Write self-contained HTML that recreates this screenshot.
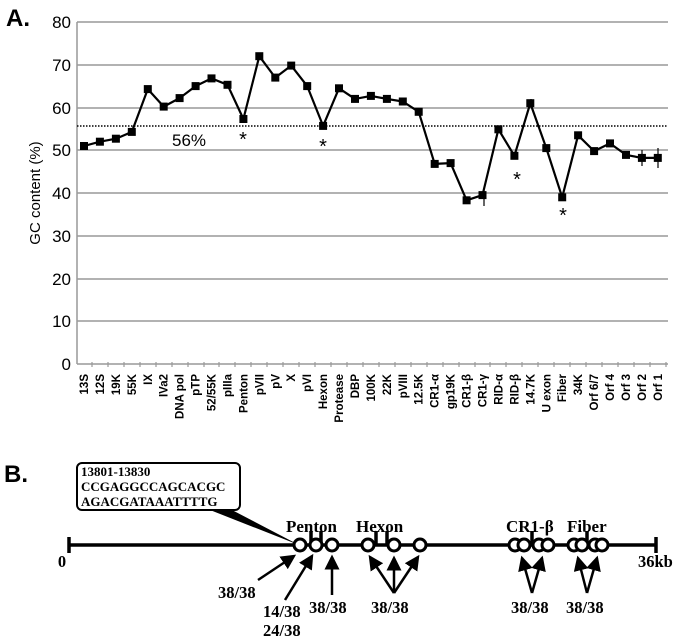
<!DOCTYPE html>
<html><head><meta charset="utf-8"><style>
html,body{margin:0;padding:0;background:#fff}
svg{display:block}
.s{font-family:"Liberation Sans",sans-serif}
.r{font-family:"Liberation Serif",serif;font-weight:bold}
</style></head><body>
<svg width="675" height="644" viewBox="0 0 675 644" xmlns="http://www.w3.org/2000/svg">
<text x="6" y="26" class="s" font-size="24" font-weight="bold">A.</text>
<g stroke="#999" stroke-width="1.5">
<line x1="77" y1="22" x2="668" y2="22"/><line x1="77" y1="65" x2="668" y2="65"/>
<line x1="77" y1="108" x2="668" y2="108"/><line x1="77" y1="150" x2="668" y2="150"/>
<line x1="77" y1="193" x2="668" y2="193"/><line x1="77" y1="236" x2="668" y2="236"/>
<line x1="77" y1="279" x2="668" y2="279"/><line x1="77" y1="321" x2="668" y2="321"/>
<line x1="77" y1="364" x2="668" y2="364"/><line x1="77" y1="22" x2="77" y2="364"/>
</g>
<g stroke="#999" stroke-width="1.2">
<line x1="92" y1="362" x2="92" y2="367"/><line x1="108" y1="362" x2="108" y2="367"/><line x1="124" y1="362" x2="124" y2="367"/><line x1="140" y1="362" x2="140" y2="367"/><line x1="156" y1="362" x2="156" y2="367"/><line x1="172" y1="362" x2="172" y2="367"/><line x1="188" y1="362" x2="188" y2="367"/><line x1="204" y1="362" x2="204" y2="367"/><line x1="219" y1="362" x2="219" y2="367"/><line x1="235" y1="362" x2="235" y2="367"/><line x1="251" y1="362" x2="251" y2="367"/><line x1="267" y1="362" x2="267" y2="367"/><line x1="283" y1="362" x2="283" y2="367"/><line x1="299" y1="362" x2="299" y2="367"/><line x1="315" y1="362" x2="315" y2="367"/><line x1="331" y1="362" x2="331" y2="367"/><line x1="347" y1="362" x2="347" y2="367"/><line x1="363" y1="362" x2="363" y2="367"/><line x1="379" y1="362" x2="379" y2="367"/><line x1="395" y1="362" x2="395" y2="367"/><line x1="411" y1="362" x2="411" y2="367"/><line x1="427" y1="362" x2="427" y2="367"/><line x1="443" y1="362" x2="443" y2="367"/><line x1="459" y1="362" x2="459" y2="367"/><line x1="475" y1="362" x2="475" y2="367"/><line x1="490" y1="362" x2="490" y2="367"/><line x1="506" y1="362" x2="506" y2="367"/><line x1="522" y1="362" x2="522" y2="367"/><line x1="538" y1="362" x2="538" y2="367"/><line x1="554" y1="362" x2="554" y2="367"/><line x1="570" y1="362" x2="570" y2="367"/><line x1="586" y1="362" x2="586" y2="367"/><line x1="602" y1="362" x2="602" y2="367"/><line x1="618" y1="362" x2="618" y2="367"/><line x1="634" y1="362" x2="634" y2="367"/><line x1="650" y1="362" x2="650" y2="367"/><line x1="666" y1="362" x2="666" y2="367"/>
</g>
<g class="s" font-size="17" text-anchor="end">
<text x="71" y="28">80</text><text x="71" y="71">70</text><text x="71" y="114">60</text>
<text x="71" y="156">50</text><text x="71" y="199">40</text><text x="71" y="242">30</text>
<text x="71" y="285">20</text><text x="71" y="327">10</text><text x="71" y="370">0</text>
</g>
<text class="s" font-size="15" transform="translate(40,193) rotate(-90)" text-anchor="middle">GC content (%)</text>
<line x1="77" y1="126" x2="668" y2="126" stroke="#000" stroke-width="1.5" stroke-dasharray="1.5,1.5"/>
<text x="172" y="146" class="s" font-size="17">56%</text>
<g class="s" font-size="20" text-anchor="middle">
<text x="243" y="146">*</text><text x="323" y="153">*</text><text x="517" y="186">*</text><text x="563" y="222">*</text>
</g>
<path d="M84,146 L99.9,141.7 L115.9,138.7 L131.8,131.9 L147.8,89.1 L163.7,106.6 L179.6,98.1 L195.6,86.1 L211.5,78.4 L227.5,84.8 L243.4,119 L259.3,56.2 L275.3,77.6 L291.2,65.6 L307.2,86.1 L323.1,125.9 L339,88.3 L355,98.9 L370.9,95.9 L386.9,98.9 L402.8,101.5 L418.7,111.8 L434.7,163.9 L450.6,163.1 L466.6,200.3 L482.5,195.1 L498.4,129.3 L514.4,155.8 L530.3,103.2 L546.3,148.1 L562.2,197.3 L578.1,135.3 L594.1,151.1 L610,143.4 L626,154.9 L641.9,157.9 L657.8,157.9" fill="none" stroke="#000" stroke-width="2.2" stroke-linejoin="round"/>
<g fill="#000" stroke="none">
<rect x="80" y="142" width="8" height="8"/><rect x="95.9" y="137.7" width="8" height="8"/><rect x="111.9" y="134.7" width="8" height="8"/><rect x="127.8" y="127.9" width="8" height="8"/><rect x="143.8" y="85.1" width="8" height="8"/><rect x="159.7" y="102.6" width="8" height="8"/><rect x="175.6" y="94.1" width="8" height="8"/><rect x="191.6" y="82.1" width="8" height="8"/><rect x="207.5" y="74.4" width="8" height="8"/><rect x="223.5" y="80.8" width="8" height="8"/><rect x="239.4" y="115" width="8" height="8"/><rect x="255.3" y="52.2" width="8" height="8"/><rect x="271.3" y="73.6" width="8" height="8"/><rect x="287.2" y="61.6" width="8" height="8"/><rect x="303.2" y="82.1" width="8" height="8"/><rect x="319.1" y="121.9" width="8" height="8"/><rect x="335" y="84.3" width="8" height="8"/><rect x="351" y="94.9" width="8" height="8"/><rect x="366.9" y="91.9" width="8" height="8"/><rect x="382.9" y="94.9" width="8" height="8"/><rect x="398.8" y="97.5" width="8" height="8"/><rect x="414.7" y="107.8" width="8" height="8"/><rect x="430.7" y="159.9" width="8" height="8"/><rect x="446.6" y="159.1" width="8" height="8"/><rect x="462.6" y="196.3" width="8" height="8"/><rect x="478.5" y="191.1" width="8" height="8"/><rect x="494.4" y="125.3" width="8" height="8"/><rect x="510.4" y="151.8" width="8" height="8"/><rect x="526.3" y="99.2" width="8" height="8"/><rect x="542.3" y="144.1" width="8" height="8"/><rect x="558.2" y="193.3" width="8" height="8"/><rect x="574.1" y="131.3" width="8" height="8"/><rect x="590.1" y="147.1" width="8" height="8"/><rect x="606" y="139.4" width="8" height="8"/><rect x="622" y="150.9" width="8" height="8"/><rect x="637.9" y="153.9" width="8" height="8"/><rect x="653.8" y="153.9" width="8" height="8"/>
</g>
<g stroke="#000" stroke-width="1.2">
<line x1="484" y1="190" x2="484" y2="206"/><line x1="642" y1="150" x2="642" y2="166"/><line x1="658" y1="148" x2="658" y2="168"/><line x1="531" y1="99" x2="531" y2="108"/>
</g>
<g class="s" font-size="11.5" font-weight="bold">
<text transform="translate(88,374) rotate(-90)" text-anchor="end">13S</text>
<text transform="translate(103.9,374) rotate(-90)" text-anchor="end">12S</text>
<text transform="translate(119.9,374) rotate(-90)" text-anchor="end">19K</text>
<text transform="translate(135.8,374) rotate(-90)" text-anchor="end">55K</text>
<text transform="translate(151.8,374) rotate(-90)" text-anchor="end">IX</text>
<text transform="translate(167.7,374) rotate(-90)" text-anchor="end">IVa2</text>
<text transform="translate(183.6,374) rotate(-90)" text-anchor="end">DNA pol</text>
<text transform="translate(199.6,374) rotate(-90)" text-anchor="end">pTP</text>
<text transform="translate(215.5,374) rotate(-90)" text-anchor="end">52/55K</text>
<text transform="translate(231.5,374) rotate(-90)" text-anchor="end">pIIIa</text>
<text transform="translate(247.4,374) rotate(-90)" text-anchor="end">Penton</text>
<text transform="translate(263.3,374) rotate(-90)" text-anchor="end">pVII</text>
<text transform="translate(279.3,374) rotate(-90)" text-anchor="end">pV</text>
<text transform="translate(295.2,374) rotate(-90)" text-anchor="end">X</text>
<text transform="translate(311.2,374) rotate(-90)" text-anchor="end">pVI</text>
<text transform="translate(327.1,374) rotate(-90)" text-anchor="end">Hexon</text>
<text transform="translate(343,374) rotate(-90)" text-anchor="end">Protease</text>
<text transform="translate(359,374) rotate(-90)" text-anchor="end">DBP</text>
<text transform="translate(374.9,374) rotate(-90)" text-anchor="end">100K</text>
<text transform="translate(390.9,374) rotate(-90)" text-anchor="end">22K</text>
<text transform="translate(406.8,374) rotate(-90)" text-anchor="end">pVIII</text>
<text transform="translate(422.7,374) rotate(-90)" text-anchor="end">12.5K</text>
<text transform="translate(438.7,374) rotate(-90)" text-anchor="end">CR1-α</text>
<text transform="translate(454.6,374) rotate(-90)" text-anchor="end">gp19K</text>
<text transform="translate(470.6,374) rotate(-90)" text-anchor="end">CR1-β</text>
<text transform="translate(486.5,374) rotate(-90)" text-anchor="end">CR1-γ</text>
<text transform="translate(502.4,374) rotate(-90)" text-anchor="end">RID-α</text>
<text transform="translate(518.4,374) rotate(-90)" text-anchor="end">RID-β</text>
<text transform="translate(534.3,374) rotate(-90)" text-anchor="end">14.7K</text>
<text transform="translate(550.3,374) rotate(-90)" text-anchor="end">U exon</text>
<text transform="translate(566.2,374) rotate(-90)" text-anchor="end">Fiber</text>
<text transform="translate(582.1,374) rotate(-90)" text-anchor="end">34K</text>
<text transform="translate(598.1,374) rotate(-90)" text-anchor="end">Orf 6/7</text>
<text transform="translate(614,374) rotate(-90)" text-anchor="end">Orf 4</text>
<text transform="translate(630,374) rotate(-90)" text-anchor="end">Orf 3</text>
<text transform="translate(645.9,374) rotate(-90)" text-anchor="end">Orf 2</text>
<text transform="translate(661.8,374) rotate(-90)" text-anchor="end">Orf 1</text>
</g>
<text x="4" y="482" class="s" font-size="24" font-weight="bold">B.</text>
<rect x="77" y="463" width="163" height="47" rx="5" fill="#fff" stroke="#000" stroke-width="2"/>
<polygon points="210,510 232,510 299,545" fill="#000"/>
<g class="r" font-size="13"><text x="81" y="476">13801-13830</text><text x="81" y="491">CCGAGGCCAGCACGC</text><text x="81" y="506">AGACGATAAATTTTG</text></g>
<g class="r" font-size="17"><text x="286" y="532">Penton</text><text x="356" y="532">Hexon</text><text x="506" y="532">CR1-β</text><text x="567" y="532">Fiber</text></g>
<g stroke="#000" stroke-width="3.5" fill="none">
<line x1="69" y1="545" x2="656" y2="545"/><line x1="69" y1="537" x2="69" y2="553"/><line x1="656" y1="537" x2="656" y2="553"/>
<line x1="311" y1="531" x2="311" y2="545"/><line x1="321" y1="531" x2="321" y2="545"/>
<line x1="376" y1="531" x2="376" y2="545"/><line x1="387" y1="531" x2="387" y2="545"/>
<line x1="532" y1="531" x2="532" y2="545"/><line x1="587" y1="531" x2="587" y2="545"/>
</g>
<g stroke="#000" stroke-width="3" fill="#fff">
<circle cx="300" cy="545" r="6"/><circle cx="316" cy="545" r="6"/><circle cx="332" cy="545" r="6"/>
<circle cx="368" cy="545" r="6"/><circle cx="394" cy="545" r="6"/><circle cx="420" cy="545" r="6"/>
<circle cx="515" cy="545" r="6"/><circle cx="524" cy="545" r="6"/><circle cx="539" cy="545" r="6"/><circle cx="548" cy="545" r="6"/>
<circle cx="574" cy="545" r="6"/><circle cx="582" cy="545" r="6"/><circle cx="595" cy="545" r="6"/><circle cx="602" cy="545" r="6"/>
</g>
<defs><marker id="a" markerWidth="6" markerHeight="6" refX="5" refY="3" orient="auto" markerUnits="strokeWidth"><path d="M0,0 L6,3 L0,6 Z"/></marker></defs>
<g stroke="#000" stroke-width="2.5" marker-end="url(#a)">
<line x1="258" y1="580" x2="294" y2="556"/><line x1="285" y1="600" x2="312" y2="556"/><line x1="332" y1="595" x2="332" y2="557"/>
<line x1="394" y1="593" x2="370" y2="557"/><line x1="394" y1="593" x2="394" y2="558"/><line x1="394" y1="593" x2="418" y2="557"/>
<line x1="532" y1="593" x2="522" y2="558"/><line x1="532" y1="593" x2="542" y2="558"/>
<line x1="587" y1="593" x2="578" y2="558"/><line x1="587" y1="593" x2="597" y2="558"/>
</g>
<g class="r" font-size="16.5"><text x="62" y="567" text-anchor="middle">0</text><text x="638" y="567">36kb</text>
<text x="218" y="598">38/38</text><text x="263" y="617">14/38</text><text x="263" y="636">24/38</text><text x="309" y="613">38/38</text>
<text x="371" y="613">38/38</text><text x="511" y="613">38/38</text><text x="566" y="613">38/38</text></g>
</svg>
</body></html>
